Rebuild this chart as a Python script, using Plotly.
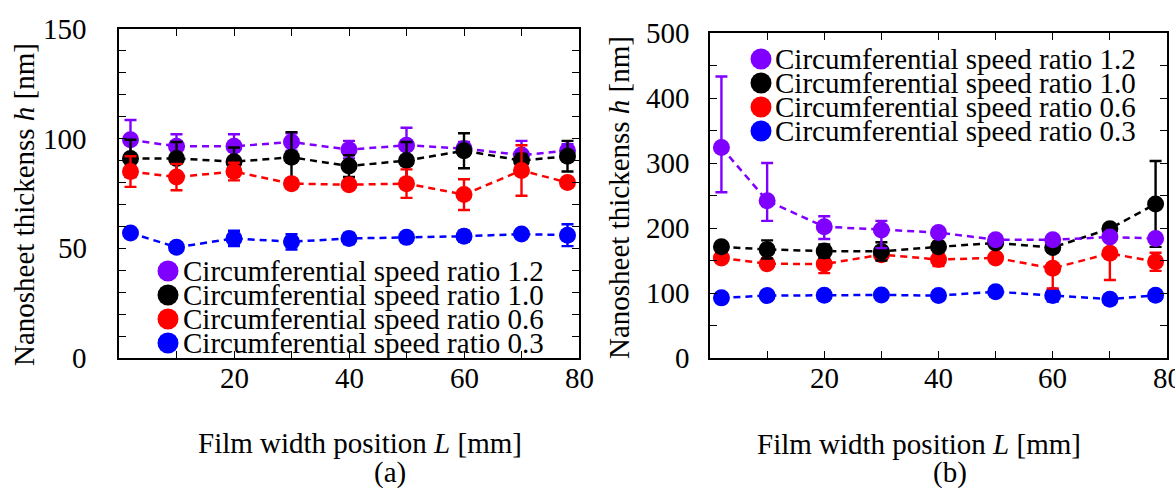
import plotly.graph_objects as go

# Film width positions L [mm]
positions = [2, 10, 20, 30, 40, 50, 60, 70, 78]

# Circumferential speed ratios (legend order) and colours
ratio_labels = ["1.2", "1.0", "0.6", "0.3"]
ratio_colors = ["#8000ff", "#000000", "#ff0000", "#0000ff"]

# tick labels
x_ticks = [20, 40, 60, 80]
y_ticks_a = [0, 50, 100, 150]
y_ticks_b = [0, 100, 200, 300, 400, 500]

# (a) nanosheet thickness h [nm]
h_a_12 = [99.5, 96.5, 96.5, 98.5, 95.0, 97.0, 95.5, 92.5, 94.5]
h_a_10 = [91.0, 91.0, 89.5, 91.5, 87.5, 90.0, 94.5, 90.0, 92.0]
h_a_06 = [85.0, 82.5, 85.0, 79.5, 79.0, 79.5, 74.5, 85.5, 80.0]
h_a_03 = [57.0, 50.5, 54.5, 53.0, 54.5, 55.0, 55.5, 56.5, 56.0]
err_a_12 = [9.0, 5.5, 5.5, 4.0, 4.0, 8.0, 3.0, 6.5, 3.0]
err_a_10 = [8.5, 7.5, 6.5, 11.5, 5.0, 8.5, 8.0, 3.0, 7.0]
err_a_06 = [7.0, 6.0, 4.0, 2.0, 2.0, 6.5, 7.0, 11.5, 2.0]
err_a_03 = [2.0, 2.0, 3.5, 3.5, 2.5, 1.5, 2.5, 1.5, 5.0]

# (b) nanosheet thickness h [nm]
h_b_12 = [324, 242, 202, 197, 193, 182, 182, 186, 184]
h_b_10 = [171, 167, 164.5, 164, 171, 177, 170, 199, 237]
h_b_06 = [154, 145, 144.5, 159, 151.5, 154, 138, 161, 148]
h_b_03 = [92.5, 96, 96.5, 97, 96, 102, 96, 90.5, 96.5]
err_b_12_up = [109, 58, 16, 14, 5, 5, 5, 5, 5]
err_b_12_dn = [69, 31, 19, 28, 5, 5, 5, 5, 5]
err_b_10 = [5, 14, 10, 14, 5, 5, 5, 5, 66]
err_b_06 = [5, 5, 14, 5, 10, 5, 31, 41, 14]
err_b_03 = [3, 3, 3, 3, 3, 3, 9, 5, 6]

FONT = "Liberation Serif, Times New Roman, serif"
FS = 29
W, H = 1175, 488


def px(x):
    return x / W


def py(y):
    return 1 - y / H


def series(y, up, dn, color, xa, ya, name):
    return go.Scatter(
        x=positions, y=y, name=name, xaxis=xa, yaxis=ya,
        mode="lines+markers",
        line=dict(color=color, width=2.5, dash="7px,5px"),
        marker=dict(color=color, size=17, line=dict(width=0)),
        error_y=dict(type="data", array=up, arrayminus=dn, symmetric=False,
                     color=color, thickness=2.4, width=6),
        showlegend=False,
    )


fig = go.Figure()

# panel (a): drawn purple, black, red, blue (blue on top)
panel_a = [
    (h_a_12, err_a_12, err_a_12, ratio_colors[0]),
    (h_a_10, err_a_10, err_a_10, ratio_colors[1]),
    (h_a_06, err_a_06, err_a_06, ratio_colors[2]),
    (h_a_03, err_a_03, err_a_03, ratio_colors[3]),
]
for (y, up, dn, c), lab in zip(panel_a, ratio_labels):
    fig.add_trace(series(y, up, dn, c, "x", "y", lab))

# panel (b): drawn blue, red, black, purple (purple on top)
panel_b = [
    (h_b_03, err_b_03, err_b_03, ratio_colors[3], ratio_labels[3]),
    (h_b_06, err_b_06, err_b_06, ratio_colors[2], ratio_labels[2]),
    (h_b_10, err_b_10, err_b_10, ratio_colors[1], ratio_labels[1]),
    (h_b_12, err_b_12_up, err_b_12_dn, ratio_colors[0], ratio_labels[0]),
]
for y, up, dn, c, lab in panel_b:
    fig.add_trace(series(y, up, dn, c, "x2", "y2", lab))

axis_common = dict(
    showline=True, linecolor="black", linewidth=1.6, mirror="ticks",
    ticks="inside", ticklen=7, tickwidth=1.4, tickcolor="black",
    showgrid=False, zeroline=False, automargin=False,
    showticklabels=False,
)


def minor(step):
    return dict(dtick=step, tick0=0, ticks="inside", ticklen=7,
                tickwidth=1.4, tickcolor="black", showgrid=False)


fig.update_layout(
    width=W, height=H,
    margin=dict(l=0, r=0, t=0, b=0, autoexpand=False),
    paper_bgcolor="white", plot_bgcolor="white",
    font=dict(family=FONT, size=FS, color="black"),
    xaxis=dict(domain=[px(119), px(579)], range=[0, 80],
               tickvals=x_ticks, minor=minor(10), anchor="y", **axis_common),
    yaxis=dict(domain=[py(358), py(29)], range=[0, 150],
               tickvals=y_ticks_a, minor=minor(10), anchor="x", **axis_common),
    xaxis2=dict(domain=[px(710), px(1167)], range=[0, 80],
                tickvals=x_ticks, minor=minor(10), anchor="y2", **axis_common),
    yaxis2=dict(domain=[py(358), py(33)], range=[0, 500],
                tickvals=y_ticks_b, minor=minor(50), anchor="x2",
                **axis_common),
)

annotations = []
shapes = []


def text(x, y, s, xref="paper", yref="paper", **kw):
    d = dict(x=x, y=y, xref=xref, yref=yref, text=s,
             showarrow=False, xanchor="center", yanchor="middle",
             font=dict(family=FONT, size=FS, color="black"))
    d.update(kw)
    annotations.append(d)


# tick labels, placed on the axes' own data scales
for v in x_ticks:
    text(v, py(378), str(v), xref="x")
    text(v, py(378), str(v), xref="x2")
for v in y_ticks_a:
    text(px(89), v, str(v), yref="y", xanchor="right")
for v in y_ticks_b:
    text(px(692), v, str(v), yref="y2", xanchor="right")

# axis titles and panel captions
ytitle = "Nanosheet thickenss <i>h</i> [nm]"
xtitle = "Film width position <i>L</i> [mm]"
text(px(24), py(205), ytitle, textangle=-90)
text(px(619), py(198), ytitle, textangle=-90)
text(px(360), py(443), xtitle)
text(px(390), py(472), "(a)")
text(px(919), py(444), xtitle)
text(px(950), py(472), "(b)")

# legends: a filled circle and a label per speed ratio
legend_rows = [
    (168, 183, [271, 295, 319, 343]),
    (761, 775, [59, 83, 107, 131]),
]
for cx, tx, rows in legend_rows:
    for lab, col, ry in zip(ratio_labels, ratio_colors, rows):
        shapes.append(dict(
            type="circle", xref="paper", yref="paper",
            xsizemode="pixel", ysizemode="pixel",
            xanchor=px(cx), yanchor=py(ry),
            x0=-10.5, x1=10.5, y0=-10.5, y1=10.5,
            fillcolor=col, line=dict(width=0),
        ))
        text(px(tx - 2), py(ry), "Circumferential speed ratio " + lab,
             xanchor="left")

fig.update_layout(annotations=annotations, shapes=shapes)

fig.write_html("out.html")
